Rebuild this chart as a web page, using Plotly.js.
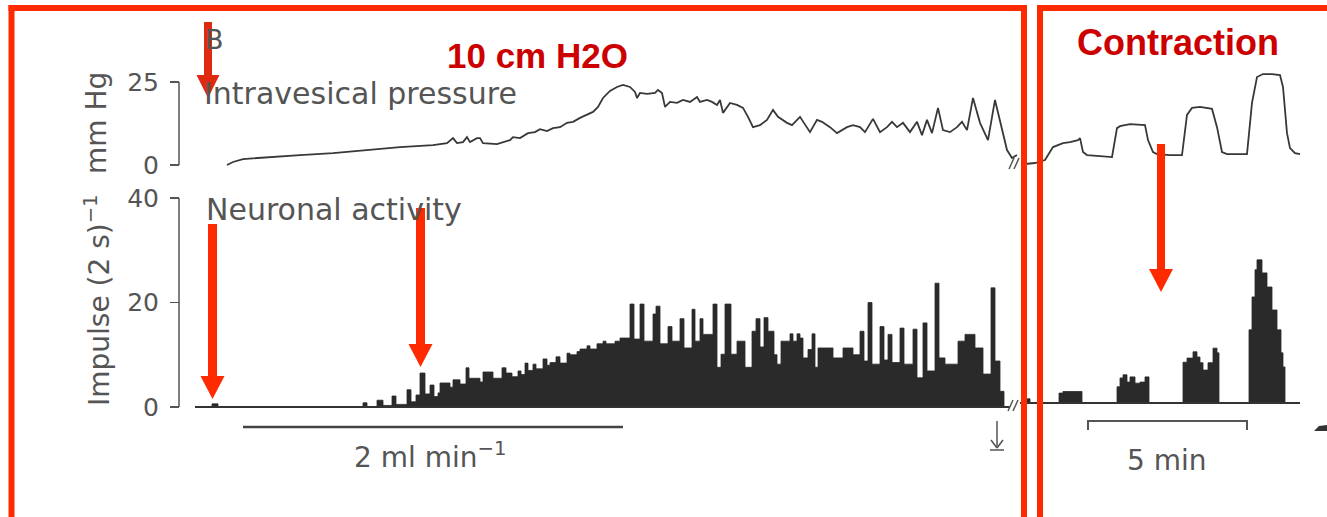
<!DOCTYPE html>
<html><head><meta charset="utf-8">
<script src="https://cdn.plot.ly/plotly-3.0.1.min.js"></script>
<style>html,body{margin:0;padding:0;background:#fff;} #chart{width:1327px;height:517px;}</style>
</head><body><div id="chart"></div>
<script>
// ---------------- DATA ----------------
// Left panel: time (s, relative) and intravesical pressure (mm Hg) during 2 ml/min filling
const fillTime = [32,38,48,72,105,138,172,192,205,238,252,258,262,268,272,275,282,285,288,302,315,318,325,333,340,345,352,358,365,372,378,385,392,398,403,408,415,422,428,435,440,442,445,452,460,463,467,470,475,482,488,495,502,505,512,517,522,525,528,535,542,548,553,558,565,572,578,583,592,597,605,615,622,627,635,642,652,658,665,670,678,685,692,697,702,708,715,722,727,732,737,743,748,755,762,767,772,778,785,793,800,807,812,817,822];
const fillPressure = [0.0,0.9,1.8,2.4,3.0,3.6,4.5,5.1,5.4,6.0,6.6,8.1,6.6,6.9,8.4,6.9,8.1,8.1,6.6,6.3,7.5,8.4,8.1,9.6,9.9,10.8,10.2,11.1,11.4,12.7,13.0,14.2,15.1,16.0,17.5,20.2,22.3,23.5,24.1,23.5,22.0,20.2,21.7,21.4,21.7,22.6,21.7,17.5,19.0,18.7,19.6,19.0,20.5,19.0,19.6,19.0,18.1,19.6,15.7,18.7,18.1,17.2,14.5,11.4,12.0,13.6,16.6,14.5,12.7,12.0,14.5,9.9,13.6,13.0,11.4,9.6,11.4,12.0,11.4,9.9,13.9,9.9,11.4,13.0,11.4,12.7,9.9,13.0,9.0,13.6,9.6,17.2,10.5,9.9,11.4,13.0,10.5,20.2,12.7,7.5,19.6,10.5,4.5,2.1,3.0];

// Left panel: neuronal activity (impulses per 2 s bin), step histogram
const fillBinTime = [0,17,23,168,172,182,188,197,201,212,216,221,225,230,235,239,243,245,255,258,265,271,274,285,288,298,307,311,317,323,326,330,333,338,341,348,352,355,361,365,372,375,382,385,392,395,402,408,411,420,425,435,439,445,449,458,461,465,473,477,485,489,497,500,505,508,518,522,526,530,536,542,550,557,561,565,569,573,579,582,586,595,598,602,605,608,613,617,620,623,638,648,658,665,669,673,677,685,689,693,697,705,709,718,722,728,732,740,744,750,763,770,780,788,796,800,805,809,815];
const fillImpulses = [0,0.6,0,0.8,0,1.3,0.3,2.1,0.5,3.3,1.0,2.3,6.5,2.5,4.2,2.0,2.7,4.6,3.8,5.2,4.4,7.5,5.5,4.8,6.7,5.5,7.5,6.5,5.8,6.9,6.2,8.4,7.0,8.2,7.3,9.2,8.0,8.5,9.6,8.4,10.3,10.0,10.6,11.1,11.7,11.1,12.1,12.6,12.1,12.6,13.2,19.7,13.0,19.7,12.6,17.8,19.3,12.1,15.4,12.6,16.9,11.3,18.7,12.6,16.9,13.9,19.7,7.6,10.1,19.7,10.1,12.6,7.6,14.5,16.9,11.5,17.1,14.5,10.0,8.2,12.6,14.0,12.6,14.0,13.2,9.4,11.0,14.0,7.6,11.3,9.4,11.3,10.0,14.5,8.8,20.0,8.2,15.4,9.0,13.9,8.5,15.1,8.2,14.9,5.6,16.1,6.9,23.7,9.4,8.2,12.6,13.9,11.3,6.3,22.8,8.8,3.0,0,0];

// Right panel: isovolumetric contractions, pressure (mm Hg)
const contrTime = [5,15,25,33,43,50,58,60,63,67,80,92,97,100,110,125,128,133,137,150,162,167,172,180,192,197,202,207,227,232,237,243,252,260,263,267,270,275,280];
const contrPressure = [0.3,0.6,1.5,5.4,6.6,6.9,7.5,8.1,3.9,3.0,2.7,2.4,11.1,11.7,12.3,12.0,7.5,3.9,3.3,3.0,3.0,15.1,17.2,17.5,16.9,11.4,3.9,3.3,3.3,18.7,26.5,27.4,27.4,27.1,23.5,9.6,5.1,3.6,3.3];

// Right panel: neuronal activity during contractions
const contrBinTime = [0,3,10,39,43,62,97,100,103,107,110,115,120,125,129,163,167,173,177,180,183,188,193,197,199,229,232,235,237,242,247,252,257,261,263,265,280];
const contrImpulses = [0,0.8,0,1.9,2.2,0,3.1,4.8,5.4,4.0,5.0,3.8,4.0,5.0,0,7.8,8.6,9.8,8.8,7.7,6.3,7.7,10.5,9.6,0,14.0,20.3,25.5,27.4,24.9,22.2,17.8,14.0,9.6,6.9,0,0];

const pressureTicks = [0, 25];
const impulseTicks = [0, 20, 40];

// ---------------- LAYOUT HELPERS ----------------
const W = 1327, H = 517;
const fx = p => p / W;
const fy = p => 1 - p / H;
const INK = '#555555', TRACE = '#383838', HIST = '#2a2a2a';
const RED_BOX = '#fe2a00', RED_TXT = '#cc0000';
const FONT = 'DejaVu Sans, Verdana, sans-serif';

function rectPx(x0, y0, x1, y1, color) {
  return {type:'rect', xref:'paper', yref:'paper', x0:fx(x0), x1:fx(x1), y0:fy(y1), y1:fy(y0),
          fillcolor:color, line:{width:0}, layer:'above'};
}
function linePx(x0, y0, x1, y1, color, w) {
  return {type:'line', xref:'paper', yref:'paper', x0:fx(x0), x1:fx(x1), y0:fy(y0), y1:fy(y1),
          line:{color:color, width:w}, layer:'above'};
}
function pathPx(pts, color) {
  const d = 'M ' + pts.map(p => fx(p[0]) + ' ' + fy(p[1])).join(' L ') + ' Z';
  return {type:'path', xref:'paper', yref:'paper', path:d, fillcolor:color, line:{width:0}, layer:'above'};
}
function arrowPx(x, top, headStart, tip, shaftW, headHW, color) {
  return [rectPx(x - shaftW/2, top, x + shaftW/2, headStart + 1, color),
          pathPx([[x - headHW, headStart], [x + headHW, headStart], [x, tip]], color)];
}

// pressure axis: 0 at y=165px, 25 at 82px
const pPer = (165 - 82) / 25;
const pRange = [-2, 30];
const pDom = [fy(165 - pRange[0]*pPer), fy(165 - pRange[1]*pPer)];
// impulse axis: 0 at 407px, 40 at 198px
const iPer = (407 - 198) / 40;
const iRange = [-1, 41];
const iDom = [fy(407 - iRange[0]*iPer), fy(407 - iRange[1]*iPer)];
const iDomR = [fy(403 - iRange[0]*iPer), fy(403 - iRange[1]*iPer)];

const axisX = fx(179);

const traces = [
  {x: fillTime, y: fillPressure, xaxis:'x', yaxis:'y', type:'scatter', mode:'lines',
   line:{color:TRACE, width:1.8}, hoverinfo:'skip'},
  {x: fillBinTime, y: fillImpulses, xaxis:'x', yaxis:'y2', type:'scatter', mode:'lines',
   line:{color:HIST, width:0.8, shape:'hv'}, fill:'tozeroy', fillcolor:HIST, hoverinfo:'skip'},
  {x: contrTime, y: contrPressure, xaxis:'x2', yaxis:'y', type:'scatter', mode:'lines',
   line:{color:TRACE, width:1.8}, hoverinfo:'skip'},
  {x: contrBinTime, y: contrImpulses, xaxis:'x2', yaxis:'y3', type:'scatter', mode:'lines',
   line:{color:HIST, width:0.8, shape:'hv'}, fill:'tozeroy', fillcolor:HIST, hoverinfo:'skip'}
];

const tickCommon = {ticks:'outside', ticklen:9, tickwidth:1.5, tickcolor:INK, showline:false,
  showgrid:false, zeroline:false, tickfont:{family:FONT, size:25, color:INK}, ticklabelstandoff:6,
  anchor:'free', position:axisX, fixedrange:true};

const shapes = [
  // axis brackets
  {type:'line', xref:'paper', yref:'y', x0:axisX, x1:axisX, y0:0, y1:25, line:{color:INK, width:1.5}},
  {type:'line', xref:'paper', yref:'y2', x0:axisX, x1:axisX, y0:0, y1:40, line:{color:INK, width:1.5}},
  // histogram baselines
  {type:'line', xref:'x', yref:'y2', x0:0, x1:815, y0:0, y1:0, line:{color:'#333', width:2}},
  {type:'line', xref:'x2', yref:'y3', x0:0, x1:280, y0:0, y1:0, line:{color:'#333', width:2}},
  // scale bars
  linePx(243, 427, 623, 427, '#444', 2.5),
  linePx(1087, 421, 1248, 421, INK, 2),
  linePx(1088, 421, 1088, 430, INK, 2),
  linePx(1247, 421, 1247, 430, INK, 2),
  // end-of-infusion marker
  linePx(997, 421, 997, 447, INK, 1.5),
  linePx(991, 440, 997, 448, INK, 1.5),
  linePx(1003, 440, 997, 448, INK, 1.5),
  linePx(990, 450, 1004, 450, INK, 1.5),
  // break marks
  linePx(1008, 411, 1013, 400, INK, 1.5),
  linePx(1013, 411, 1018, 400, INK, 1.5),
  linePx(1009, 169, 1014, 158, INK, 1.5),
  linePx(1014, 169, 1019, 158, INK, 1.5),
  // fragment at right edge
  pathPx([[1314, 431], [1327, 431], [1327, 425], [1319, 426]], '#333'),
  // red boxes
  rectPx(8.5, 5, 14.5, 530, RED_BOX),
  rectPx(8.5, 5, 1027, 11, RED_BOX),
  rectPx(1021, 5, 1027, 530, RED_BOX),
  rectPx(1037, 5, 1043, 530, RED_BOX),
  rectPx(1037, 5, 1340, 11, RED_BOX),
  // red arrows
  ...arrowPx(208, 22, 75, 98, 8, 11.5, '#e02a10'),
  ...arrowPx(212.5, 224, 376, 399, 9, 12, RED_BOX),
  ...arrowPx(420.5, 208, 344, 367, 9, 12, RED_BOX),
  ...arrowPx(1161, 144, 269, 292, 8, 12, RED_BOX)
];

function txt(text, x, y, size, opts) {
  return Object.assign({text:text, xref:'paper', yref:'paper', x:fx(x), y:fy(y), showarrow:false,
    xanchor:'center', yanchor:'middle', font:{family:FONT, size:size, color:INK}}, opts || {});
}

const annotations = [
  txt('B', 214, 40, 27),
  txt('Intravesical pressure', 202, 93, 30, {xanchor:'left'}),
  txt('Neuronal activity', 204, 210, 30, {xanchor:'left'}),
  txt('mm Hg', 97, 123, 28, {textangle:-90}),
  txt('Impulse (2 s)<sup>\u22121</sup>', 97, 300, 28, {textangle:-90}),
  txt('2 ml min<sup>\u22121</sup>', 430, 455, 28),
  txt('5 min', 1167, 460, 28),
  txt('10 cm H2O', 537, 56, 35, {font:{family:'Liberation Sans, Arial, sans-serif', size:35, color:RED_TXT, weight:'bold'}}),
  txt('Contraction', 1178, 42, 36, {font:{family:'Liberation Sans, Arial, sans-serif', size:36, color:RED_TXT, weight:'bold'}})
];

const layout = {
  width:W, height:H, margin:{l:0, r:0, t:0, b:0},
  paper_bgcolor:'#ffffff', plot_bgcolor:'rgba(0,0,0,0)', showlegend:false, hovermode:false,
  xaxis:{domain:[fx(195), fx(1020)], range:[0, 825], visible:false, anchor:'y2', fixedrange:true},
  xaxis2:{domain:[fx(1020), 1], range:[0, 307], visible:false, anchor:'y3', fixedrange:true},
  yaxis:Object.assign({}, tickCommon, {domain:pDom, range:pRange, tickvals:pressureTicks}),
  yaxis2:Object.assign({}, tickCommon, {domain:iDom, range:iRange, tickvals:impulseTicks}),
  yaxis3:{domain:iDomR, range:iRange, visible:false, anchor:'x2', fixedrange:true},
  shapes:shapes, annotations:annotations
};

Plotly.newPlot('chart', traces, layout, {staticPlot:true, displayModeBar:false});
</script></body></html>
